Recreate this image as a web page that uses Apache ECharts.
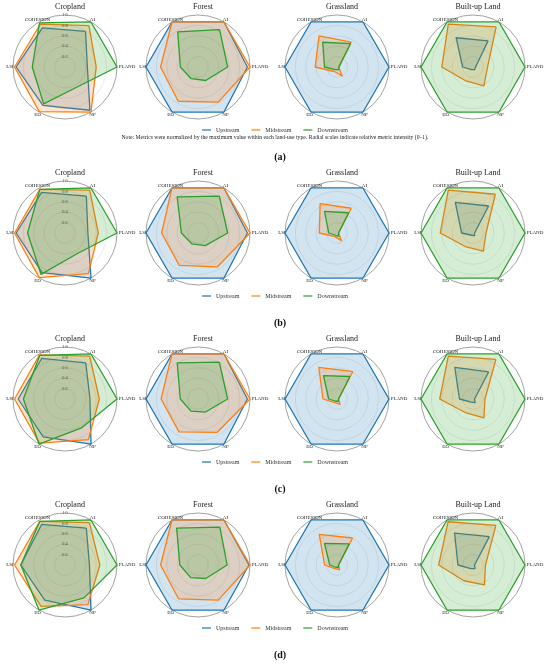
<!DOCTYPE html>
<html>
<head>
<meta charset="utf-8">
<script src="https://cdn.jsdelivr.net/npm/echarts@6/dist/echarts.min.js"></script>
<style>
html,body{margin:0;padding:0;background:#fff}
#chart{width:550px;height:664px}
</style>
</head>
<body>
<div id="chart"></div>
<script>
// categories
var indicators = ['AI', 'COHESION', 'LSI', 'ED', 'NP', 'PLAND'];
var landTypes = ['Cropland', 'Forest', 'Grassland', 'Built-up Land'];
var panelLabels = ['(a)', '(b)', '(c)', '(d)'];
var zones = ['Upstream', 'Midstream', 'Downstream'];
var note = 'Note: Metrics were normalized by the maximum value within each land-use type. Radial scales indicate relative metric intensity (0\u20131).';

// values per land type, order: AI, COHESION, LSI, ED, NP, PLAND
// panel (a)
var upstreamA   = [[0.79,0.87,0.94,0.85,0.96,0.43],[1,1,1,1,1,0.95],[1,1,1,1,1,1],[0.58,0.65,0.20,0.06,0.06,0.05]];
var midstreamA  = [[0.92,0.95,0.97,0.99,1.00,0.60],[1,1,0.72,0.76,0.78,1],[0.55,0.69,0.42,0.10,0.20,0.03],[0.89,0.95,0.60,0.30,0.42,0.28]];
var downstreamA = [[1.00,0.98,0.63,0.82,0.45,1.00],[0.83,0.78,0.34,0.26,0.30,0.57],[0.52,0.55,0.24,0.06,0.06,0.04],[1,1,1,1,1,1]];
// panel (b)
var upstreamB   = [[0.82,0.90,0.94,0.88,1.00,0.44],[1,1,1,1,1,0.95],[1,1,1,1,1,1],[0.60,0.68,0.22,0.05,0.06,0.03]];
var midstreamB  = [[0.95,0.97,0.97,0.99,0.90,0.64],[1,1,0.70,0.72,0.75,1],[0.55,0.65,0.34,0.08,0.17,0.03],[0.86,0.95,0.63,0.30,0.40,0.25]];
var downstreamB = [[1.00,0.97,0.72,0.92,0.46,1.00],[0.82,0.80,0.32,0.24,0.28,0.57],[0.45,0.48,0.16,0.05,0.07,0.03],[1,1,1,1,1,1]];
// panel (c)
var upstreamC   = [[0.80,0.90,0.90,0.84,1.00,0.48],[1,1,1,1,1,0.95],[1,1,1,1,1,1],[0.60,0.70,0.26,0.07,0.08,0.03]];
var midstreamC  = [[0.95,0.98,0.97,0.98,0.90,0.66],[1,1,0.71,0.73,0.74,1],[0.61,0.70,0.27,0.08,0.12,0.03],[0.88,0.95,0.64,0.30,0.42,0.23]];
var downstreamC = [[1.00,0.97,0.80,1.00,0.64,1.00],[0.82,0.80,0.34,0.27,0.29,0.57],[0.50,0.52,0.16,0.05,0.05,0.03],[1,1,1,1,1,1]];
// panel (d)
var upstreamD   = [[0.82,0.90,0.85,0.78,1.00,0.47],[1,1,1,1,1,0.98],[1,1,1,1,1,1],[0.63,0.71,0.29,0.08,0.08,0.03]];
var midstreamD  = [[0.94,0.97,0.97,0.92,0.88,0.67],[1,1,0.72,0.75,0.78,1],[0.60,0.68,0.24,0.08,0.10,0.03],[0.88,0.96,0.66,0.35,0.44,0.24]];
var downstreamD = [[1.00,0.97,0.85,1.00,0.73,1.00],[0.84,0.82,0.35,0.28,0.30,0.56],[0.47,0.48,0.14,0.05,0.05,0.03],[1,1,1,1,1,1]];

var panels = [
    [upstreamA, midstreamA, downstreamA],
    [upstreamB, midstreamB, downstreamB],
    [upstreamC, midstreamC, downstreamC],
    [upstreamD, midstreamD, downstreamD]
];

var colors = ['#1f77b4', '#ff7f0e', '#2ca02c'];
var serif = '"Liberation Serif", "DejaVu Serif", serif';
var cx = [65, 198, 337, 473];
var cy = [67, 233, 399, 565];
var R = 52;

var radar = [], series = [], title = [], legend = [], polar = [], angleAxis = [], radiusAxis = [];

for (var p = 0; p < panels.length; p++) {
    for (var l = 0; l < landTypes.length; l++) {
        var idx = radar.length;
        radar.push({
            center: [cx[l], cy[p]],
            radius: R,
            startAngle: 60,
            shape: 'circle',
            splitNumber: 5,
            nameGap: 3,
            indicator: indicators.map(function (n) { return { name: n, min: 0, max: 1 }; }),
            axisName: {
                color: '#222', fontSize: 5, fontFamily: serif, align: 'center', verticalAlign: 'middle',
                // PLAND sits just outside the ring on the right
                formatter: function (n) { return n === 'PLAND' ? '{r|' + n + '}' : n; },
                rich: { r: { fontSize: 5, fontFamily: serif, color: '#222', padding: [0, 0, 0, 14] } }
            },
            axisLine: { show: false },
            axisTick: { show: false },
            axisLabel: { show: false },
            splitArea: { show: false },
            splitLine: { lineStyle: { color: ['#e6e6e6', '#e6e6e6', '#e6e6e6', '#e6e6e6', '#e6e6e6', '#8a8a8a'], width: 0.8 } }
        });
        series.push({
            type: 'radar',
            radarIndex: idx,
            symbol: 'none',
            data: zones.map(function (z, k) {
                return {
                    name: z,
                    value: panels[p][k][l],
                    itemStyle: { color: colors[k] },
                    lineStyle: { color: colors[k], width: 1.3 },
                    areaStyle: { color: colors[k], opacity: 0.2 }
                };
            })
        });
        title.push({
            text: landTypes[l],
            left: cx[l], top: cy[p] - 69, textAlign: 'center',
            textStyle: { fontSize: 8, fontWeight: 'normal', color: '#222', fontFamily: serif }
        });
        if (l === 0) {
            // radial scale labels on the Cropland plots
            var pi = polar.length;
            polar.push({ center: [cx[l], cy[p]], radius: R });
            angleAxis.push({ polarIndex: pi, show: false, startAngle: 90, min: 0, max: 360 });
            radiusAxis.push({
                polarIndex: pi, min: 0, max: 1, interval: 0.2, z: 10,
                axisLine: { show: false }, axisTick: { show: false }, splitLine: { show: false },
                axisLabel: {
                    fontSize: 4.3, color: '#444', fontFamily: serif, margin: 0, align: 'center',
                    showMinLabel: false, showMaxLabel: true,
                    formatter: function (v) { return v.toFixed(1); }
                }
            });
        }
    }
    legend.push({
        data: zones, top: cy[p] + 55, left: 'center',
        icon: 'rect', itemWidth: 9, itemHeight: 1.2, itemGap: 12,
        textStyle: { fontSize: 6, color: '#333', fontFamily: serif }
    });
    title.push({
        text: panelLabels[p], left: 275, top: cy[p] + 80, textAlign: 'center',
        textStyle: { fontSize: 10, fontWeight: 'bold', color: '#111', fontFamily: serif }
    });
}
title.push({
    text: note, left: 270, top: cy[0] + 63, textAlign: 'center',
    textStyle: { fontSize: 5.7, fontWeight: 'normal', color: '#222', fontFamily: serif }
});

var chart = echarts.init(document.getElementById('chart'));
chart.setOption({
    color: colors,
    animation: false,
    title: title,
    legend: legend,
    radar: radar,
    polar: polar,
    angleAxis: angleAxis,
    radiusAxis: radiusAxis,
    series: series
});
</script>
</body>
</html>
